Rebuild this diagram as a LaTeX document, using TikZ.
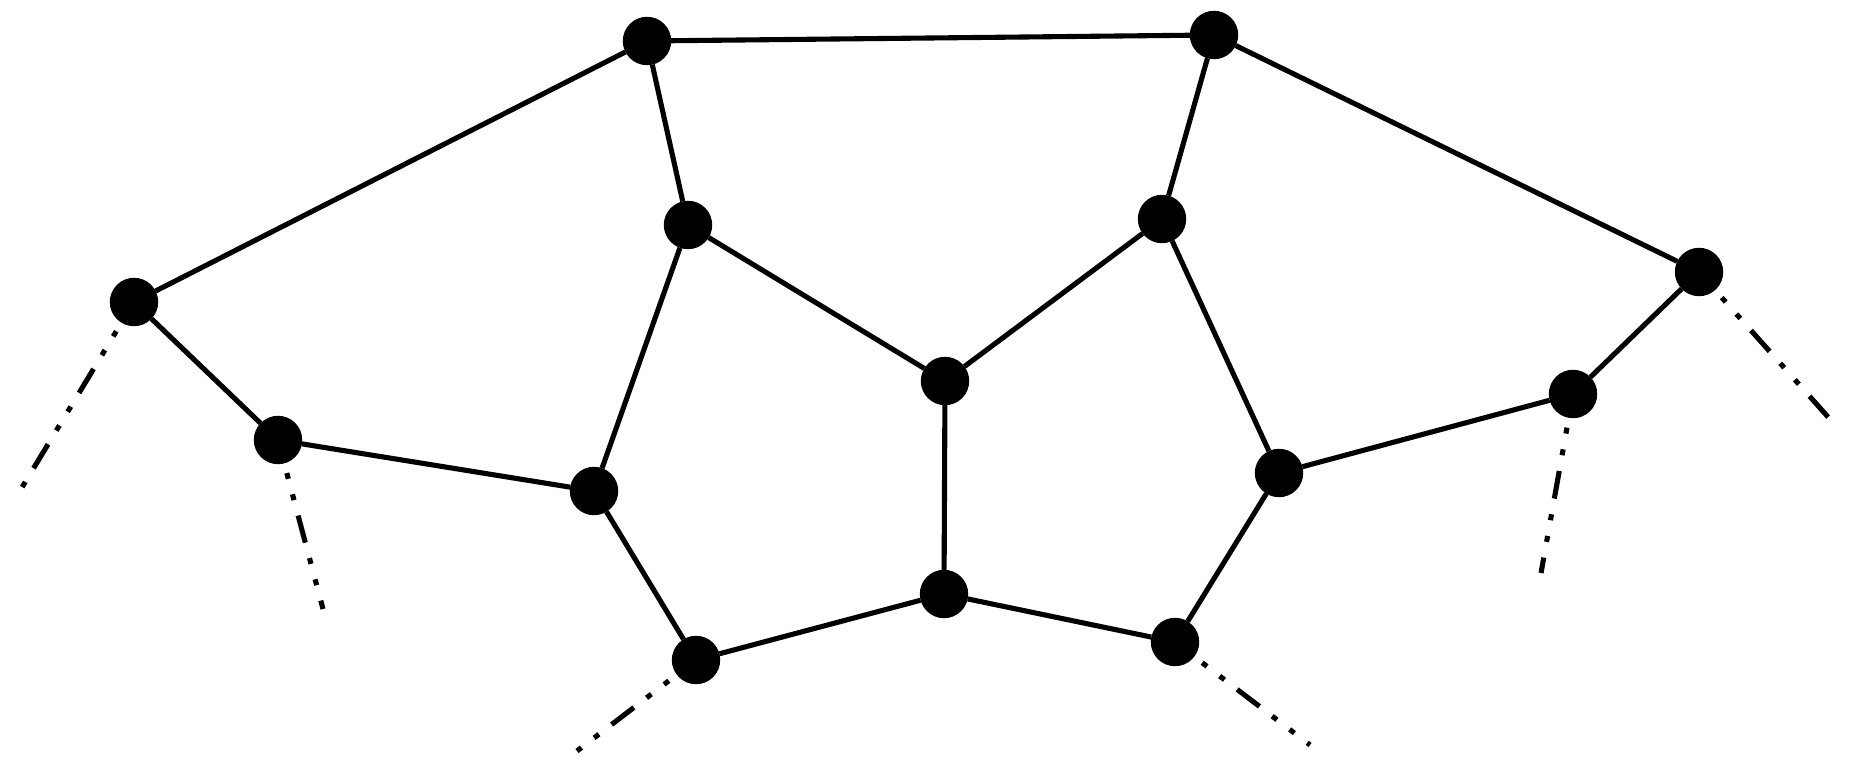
\documentclass[tikz,border=0pt]{standalone}
\begin{document}
\begin{tikzpicture}[
        vertex/.style={circle,fill=black,draw=black,inner sep=0pt,minimum size=0.47cm},
        edge/.style={line width=1.45pt},
        halfedge/.style={line width=1.45pt,dash pattern=on 0pt off 0.1cm on 0.06cm off 0.16cm on 0.06cm off 0.16cm on 0.28cm off 0.06cm}
    ]
    \useasboundingbox (0,0) rectangle (18.54,-7.63);
    \node [vertex] (v1) at (6.47,-0.41) {};
    \node [vertex] (v2) at (12.14,-0.35) {};
    \node [vertex] (v3) at (1.34,-3.02) {};
    \node [vertex] (v4) at (2.78,-4.40) {};
    \node [vertex] (v5) at (6.88,-2.25) {};
    \node [vertex] (v6) at (9.45,-3.81) {};
    \node [vertex] (v7) at (11.62,-2.19) {};
    \node [vertex] (v8) at (16.99,-2.72) {};
    \node [vertex] (v9) at (15.73,-3.94) {};
    \node [vertex] (v10) at (5.94,-4.91) {};
    \node [vertex] (v11) at (12.79,-4.73) {};
    \node [vertex] (v12) at (9.44,-5.94) {};
    \node [vertex] (v13) at (6.96,-6.60) {};
    \node [vertex] (v14) at (11.75,-6.42) {};
    \coordinate (e3) at (0.18,-4.94);
    \coordinate (e4) at (3.23,-6.09);
    \coordinate (e8) at (18.36,-4.26);
    \coordinate (e9) at (15.41,-5.73);
    \coordinate (e13) at (5.77,-7.51);
    \coordinate (e14) at (13.10,-7.45);
    \draw [edge] (v1) -- (v2);
    \draw [edge] (v1) -- (v3);
    \draw [edge] (v1) -- (v5);
    \draw [edge] (v2) -- (v7);
    \draw [edge] (v2) -- (v8);
    \draw [edge] (v3) -- (v4);
    \draw [edge] (v4) -- (v10);
    \draw [edge] (v5) -- (v10);
    \draw [edge] (v5) -- (v6);
    \draw [edge] (v6) -- (v7);
    \draw [edge] (v6) -- (v12);
    \draw [edge] (v7) -- (v11);
    \draw [edge] (v8) -- (v9);
    \draw [edge] (v9) -- (v11);
    \draw [edge] (v10) -- (v13);
    \draw [edge] (v11) -- (v14);
    \draw [edge] (v12) -- (v13);
    \draw [edge] (v12) -- (v14);
    \draw [halfedge] (v3) -- (e3);
    \draw [halfedge] (v4) -- (e4);
    \draw [halfedge] (v8) -- (e8);
    \draw [halfedge] (v9) -- (e9);
    \draw [halfedge] (v13) -- (e13);
    \draw [halfedge] (v14) -- (e14);
\end{tikzpicture}
\end{document}
